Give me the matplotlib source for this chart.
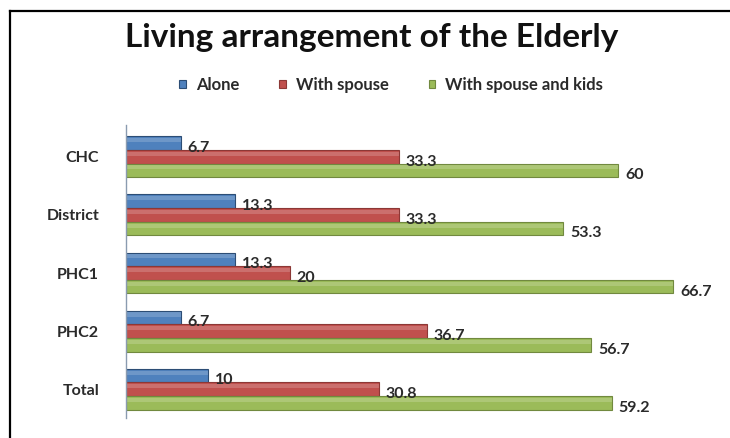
import numpy as np
import matplotlib.pyplot as plt
from matplotlib.lines import Line2D

# living arrangement by facility (%)
places = ['CHC', 'District', 'PHC1', 'PHC2', 'Total']
alone = [6.7, 13.3, 13.3, 6.7, 10]
with_spouse = [33.3, 33.3, 20, 36.7, 30.8]
spouse_kids = [60, 53.3, 66.7, 56.7, 59.2]
series_names = ['Alone', 'With spouse', 'With spouse and kids']

colors = ['#4F81BD', '#C0504D', '#9BBB59']
edges = ['#2C4D75', '#8C3836', '#71893F']

plt.rcParams['font.family'] = ['Lato', 'DejaVu Sans']

fig = plt.figure(figsize=(7.3, 4.38), dpi=100)
ax = fig.add_axes([0.172, 0.045, 0.81, 0.67])

y = np.arange(len(places))
h = 0.235
for k, vals in enumerate([alone, with_spouse, spouse_kids]):
    pos = y + (k - 1) * h
    ax.barh(pos, vals, height=h, color=colors[k], edgecolor=edges[k],
            linewidth=0.8, label=series_names[k])
    # lighter top strip for a bit of the bevelled look
    ax.barh(pos - h * 0.22, vals, height=h * 0.3, color='white', alpha=0.18,
            linewidth=0)
    for p, v in zip(pos, vals):
        ax.annotate(f'{v:g}', (v, p), xytext=(5, -3.5), textcoords='offset points',
                    va='center', ha='left', fontsize=11.5, fontweight='bold',
                    color='#2a2a2a')

ax.set_xlim(0, 72)
ax.set_ylim(4.5, -0.55)
ax.set_yticks(y)
ax.set_yticklabels(places, fontsize=11.5, fontweight='bold', color='#2a2a2a')
ax.tick_params(axis='y', length=0, pad=19)
ax.set_xticks([])
for s in ['top', 'right', 'bottom']:
    ax.spines[s].set_visible(False)
ax.spines['left'].set_color('#8A9BB0')
ax.spines['left'].set_linewidth(1.0)

fig.text(0.509, 0.893, 'Living arrangement of the Elderly', ha='center',
         va='baseline', fontsize=24, fontweight='bold', color='#111111')

handles, labels = ax.get_legend_handles_labels()
fig.legend(handles[:3], labels[:3], loc='center', bbox_to_anchor=(0.536, 0.806),
           ncol=3, frameon=False, prop={'size': 12, 'weight': 'bold'},
           labelcolor='#2a2a2a', handlelength=0.4, handleheight=0.4,
           columnspacing=2.4, handletextpad=0.6)

# chart border
fig.add_artist(Line2D([10 / 730, 10 / 730], [0, 1 - 11 / 438],
                      transform=fig.transFigure, color='black', lw=1.6))
fig.add_artist(Line2D([10 / 730, 1], [1 - 11 / 438, 1 - 11 / 438],
                      transform=fig.transFigure, color='black', lw=1.6))

fig.savefig('out.png', dpi=100)
